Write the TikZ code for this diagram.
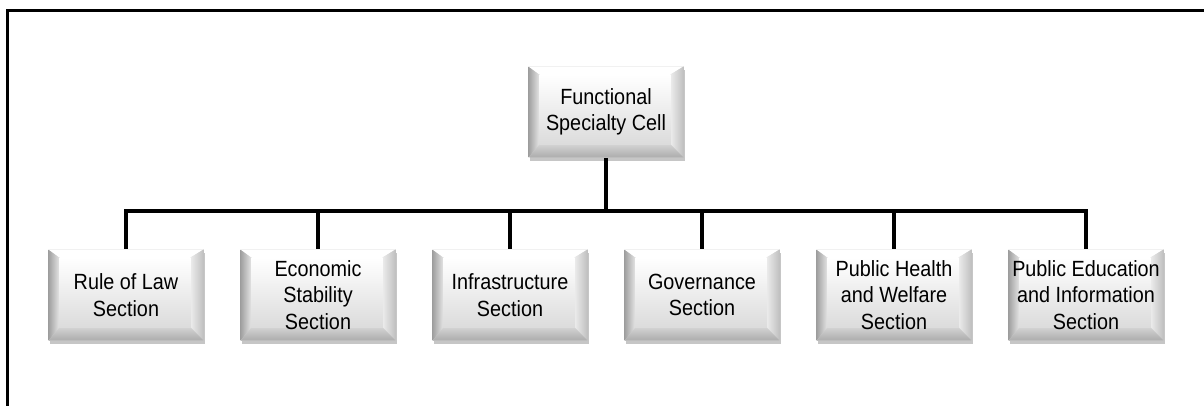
\documentclass[tikz,border=0pt]{standalone}
\usepackage{fontspec}
\setmainfont{Liberation Sans}[FakeStretch=0.9]
\usetikzlibrary{calc,shadows}

\tikzset{
  bevel/.style={minimum width=77.5pt, minimum height=45.5pt, inner sep=1pt,
    align=center, font=\fontsize{11}{13.3}\selectfont,
    drop shadow={shadow xshift=.6pt, shadow yshift=-1.8pt, fill=black!50, opacity=.45},
    path picture={
      \coordinate (bv-sw) at (path picture bounding box.south west);
      \coordinate (bv-nw) at (path picture bounding box.north west);
      \coordinate (bv-ne) at (path picture bounding box.north east);
      \coordinate (bv-se) at (path picture bounding box.south east);
      \coordinate (bv-isw) at ($(bv-sw)+(5.5pt,6.5pt)$);
      \coordinate (bv-inw) at ($(bv-nw)+(5.5pt,-4pt)$);
      \coordinate (bv-ine) at ($(bv-ne)+(-6.5pt,-4pt)$);
      \coordinate (bv-ise) at ($(bv-se)+(-6.5pt,6.5pt)$);
      \fill[gray!30] (bv-sw) rectangle (bv-ne);
      \shade[left color=gray!75, right color=gray!20] (bv-sw) -- (bv-nw) -- (bv-inw) -- (bv-isw) -- cycle;
      \fill[white] (bv-nw) -- (bv-ne) -- (bv-ine) -- (bv-inw) -- cycle;
      \shade[left color=gray!15, right color=gray!50] (bv-ne) -- (bv-se) -- (bv-ise) -- (bv-ine) -- cycle;
      \shade[top color=gray!35, bottom color=gray!65] (bv-sw) -- (bv-se) -- (bv-ise) -- (bv-isw) -- cycle;
      \shade[top color=white, bottom color=gray!28] (bv-isw) rectangle (bv-ine);
    }},
  link/.style={line width=1.6pt}
}

\begin{document}
\begin{tikzpicture}[x=0.5pt,y=-0.5pt]
  \useasboundingbox (0,0) rectangle (1204,406);

  % frame
  \draw[line width=1.5pt] (7,406) -- (7,11) -- (1204,11);

  \begin{scope}[every node/.style={bevel}]
    \node (0) at (606,112) {Functional\\Specialty Cell};
    \node (1) at (126,295) {Rule of Law\\Section};
    \node (2) at (318,295) {Economic\\Stability\\Section};
    \node (3) at (510,295) {Infrastructure\\Section};
    \node (4) at (702,295) {Governance\\Section};
    \node (5) at (894,295) {Public Health\\and Welfare\\Section};
    \node (6) at (1086,295) {Public Education\\and Information\\Section};
  \end{scope}

  \coordinate (bus) at (606,211);

  \begin{scope}[link]
    \draw (0) -- (bus);
    \draw (bus) -| (1);
    \draw (bus) -| (2);
    \draw (bus) -| (3);
    \draw (bus) -| (4);
    \draw (bus) -| (5);
    \draw (bus) -| (6);
  \end{scope}

\end{tikzpicture}
\end{document}
